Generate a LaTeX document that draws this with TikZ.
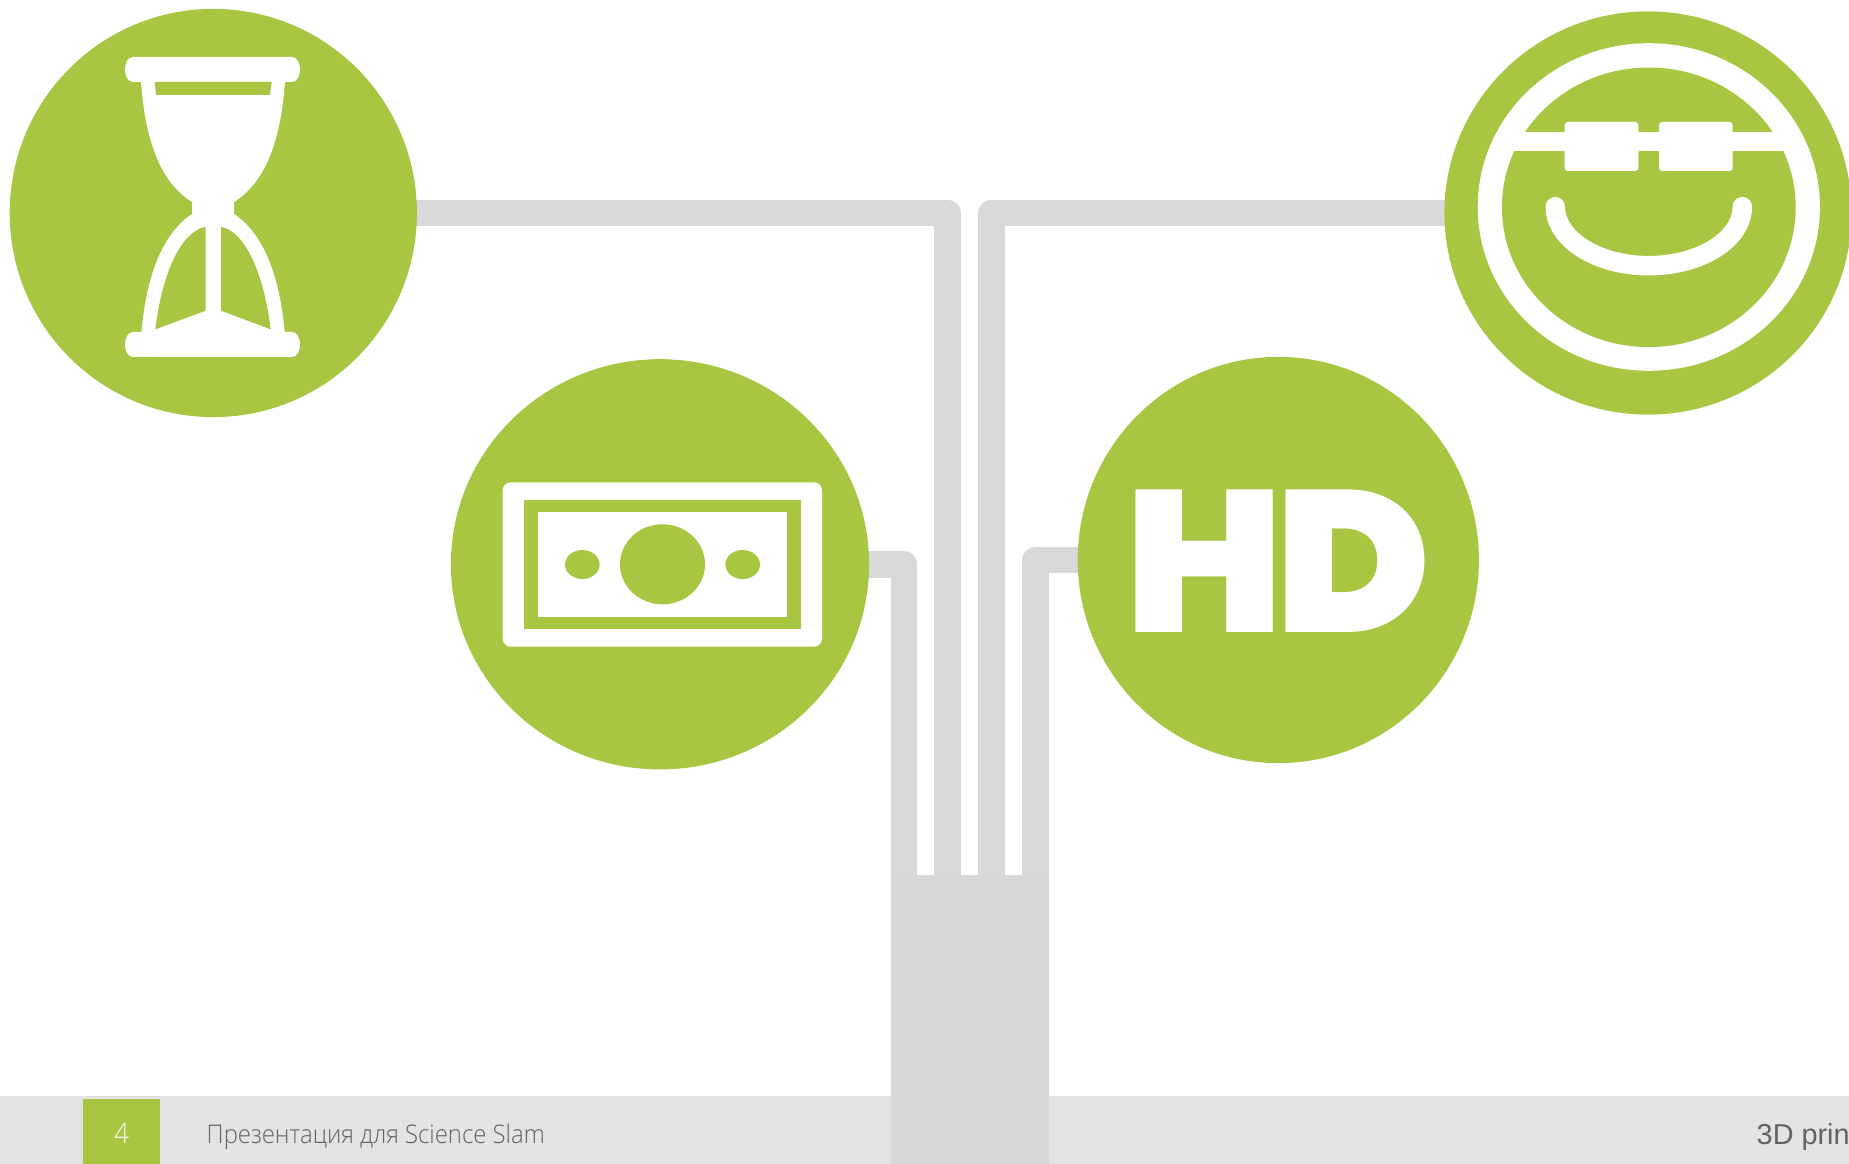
\documentclass[tikz,border=0pt]{standalone}
\usepackage{fontspec}
\usetikzlibrary{positioning, shapes.geometric, backgrounds}
\newfontfamily\footfont{Open Sans Light}[FakeStretch=0.93]
\newfontfamily\stampfont{Liberation Sans}
\newfontfamily\hdfont{Poppins Black}[FakeStretch=1.04]
\definecolor{leaf}{HTML}{A9C642}
\definecolor{pipegray}{HTML}{D9D9D9}
\definecolor{trunkgray}{HTML}{D8D8D8}
\definecolor{footgray}{HTML}{E3E3E3}
\definecolor{inkgray}{HTML}{636363}

\begin{document}
\begin{tikzpicture}[
    x=0.01cm, y=-0.01cm,
    badge/.style={ellipse, fill=leaf, inner sep=0pt},
    pipe/.style={draw=pipegray, line width=0.265cm, line join=round},
    band/.style={rectangle, inner sep=0pt},
    hole/.style={fill=leaf},
    cutout/.style={fill=white},
]
\useasboundingbox (0,0) rectangle (1849,1164);

\node[band, fill=trunkgray, minimum width=1.58cm, minimum height=2.89cm] (trunk) at (970,1019.5) {};
\node[badge, minimum width=4.07cm, minimum height=4.08cm] (hourglass) at (213.3,213) {};
\node[badge, minimum width=4.18cm, minimum height=4.10cm] (money) at (660,564.3) {};
\node[badge, minimum width=4.01cm, minimum height=4.06cm] (hd) at (1278.3,560) {};
\node[badge, minimum width=4.07cm, minimum height=4.03cm] (smile) at (1648,213) {};

\coordinate (portmoney) at (904,880);
\coordinate (porthour) at (947.5,880);
\coordinate (portsmile) at (991.3,880);
\coordinate (porthd) at (1035.7,880);

\begin{scope}[on background layer]
\node[band, fill=footgray, minimum width=18.49cm, minimum height=0.68cm] (footer) at (924.5,1130) {};
\draw[pipe] (hourglass.center) -| (porthour);
\draw[pipe] (smile.center) -| (portsmile);
\draw[pipe] (money.center) -| (portmoney);
\draw[pipe] (hd.center) -| (porthd);
\end{scope}

\node[band, fill=leaf, minimum width=0.775cm, minimum height=0.65cm] (pagebox) at (121.5,1131.5) {};
\node[font=\footfont\fontsize{8}{10}\selectfont, text=white, inner sep=0pt, yshift=-0.02cm] (pagenum) at (pagebox.center) {4};
\node[font=\footfont\fontsize{7.3}{10}\selectfont, text=inkgray, inner sep=0pt, anchor=base west] (talk) at (206,1143) {Презентация для Science Slam};
\node[font=\stampfont\fontsize{8.2}{10}\selectfont, text=inkgray, inner sep=0pt, anchor=base west] (topic) at (1756,1144) {3D prin};

\fill[cutout] (133,57) -- (292,57) .. controls (297,57) and (300,63) .. (300,69.5) .. controls (300,76) and (297,82) .. (292,82)
  -- (285,82) .. controls (280,150) and (261,185) .. (234,202) -- (234,214) .. controls (261,232) and (279,270) .. (284.7,332)
  -- (292,332) .. controls (297,332) and (300,338) .. (300,344.5) .. controls (300,351) and (297,357) .. (292,357)
  -- (133,357) .. controls (128,357) and (125,351) .. (125,344.5) .. controls (125,338) and (128,332) .. (133,332)
  -- (141.5,332) .. controls (147,270) and (165,232) .. (192,214) -- (192,202) .. controls (165,185) and (146,150) .. (141,82)
  -- (133,82) .. controls (128,82) and (125,76) .. (125,69.5) .. controls (125,63) and (128,57) .. (133,57) -- cycle;
\fill[hole] (154.7,82) -- (271.7,82) -- (270,95) -- (156,95) -- cycle;
\fill[hole] (205.7,226.7) -- (205.7,310.7) -- (155.3,329.3) .. controls (162,275) and (180,232) .. (205.7,226.7) -- cycle;
\fill[hole] (221,226.7) -- (221,310.7) -- (270.7,329.3) .. controls (264,275) and (246,232) .. (221,226.7) -- cycle;

\fill[cutout, rounded corners=0.08cm] (502.7,482.3) rectangle (822,646.7);
\fill[hole] (524,500) rectangle (801,629);
\fill[cutout] (538.3,512) rectangle (786.7,617);
\fill[hole] (662.5,564.3) ellipse [x radius=0.425cm, y radius=0.40cm];
\fill[hole] (582.3,564.5) ellipse [x radius=0.173cm, y radius=0.145cm];
\fill[hole] (742.7,564.5) ellipse [x radius=0.173cm, y radius=0.145cm];

\node[font=\hdfont\fontsize{57.3}{60}\selectfont, text=white, inner sep=0pt, anchor=base] (hdtext) at (1278.7,632) {H\kern-2.4pt D};

\fill[cutout] (1648.8,207) ellipse [x radius=1.71cm, y radius=1.637cm];
\fill[hole] (1648.8,207.3) ellipse [x radius=1.468cm, y radius=1.397cm];
\fill[cutout] (1498,132.3) rectangle (1799,151);
\fill[cutout, rounded corners=0.03cm] (1564.7,122) rectangle (1638.3,171);
\fill[cutout, rounded corners=0.03cm] (1659,122) rectangle (1732.7,171);
\draw[white, line width=0.195cm, line cap=round] (1555.3,206.7) .. controls (1555.3,239.3) and (1597.2,265.7) .. (1648.8,265.7)
  .. controls (1700.4,265.7) and (1742.3,239.3) .. (1742.3,206.7);
\end{tikzpicture}
\end{document}
